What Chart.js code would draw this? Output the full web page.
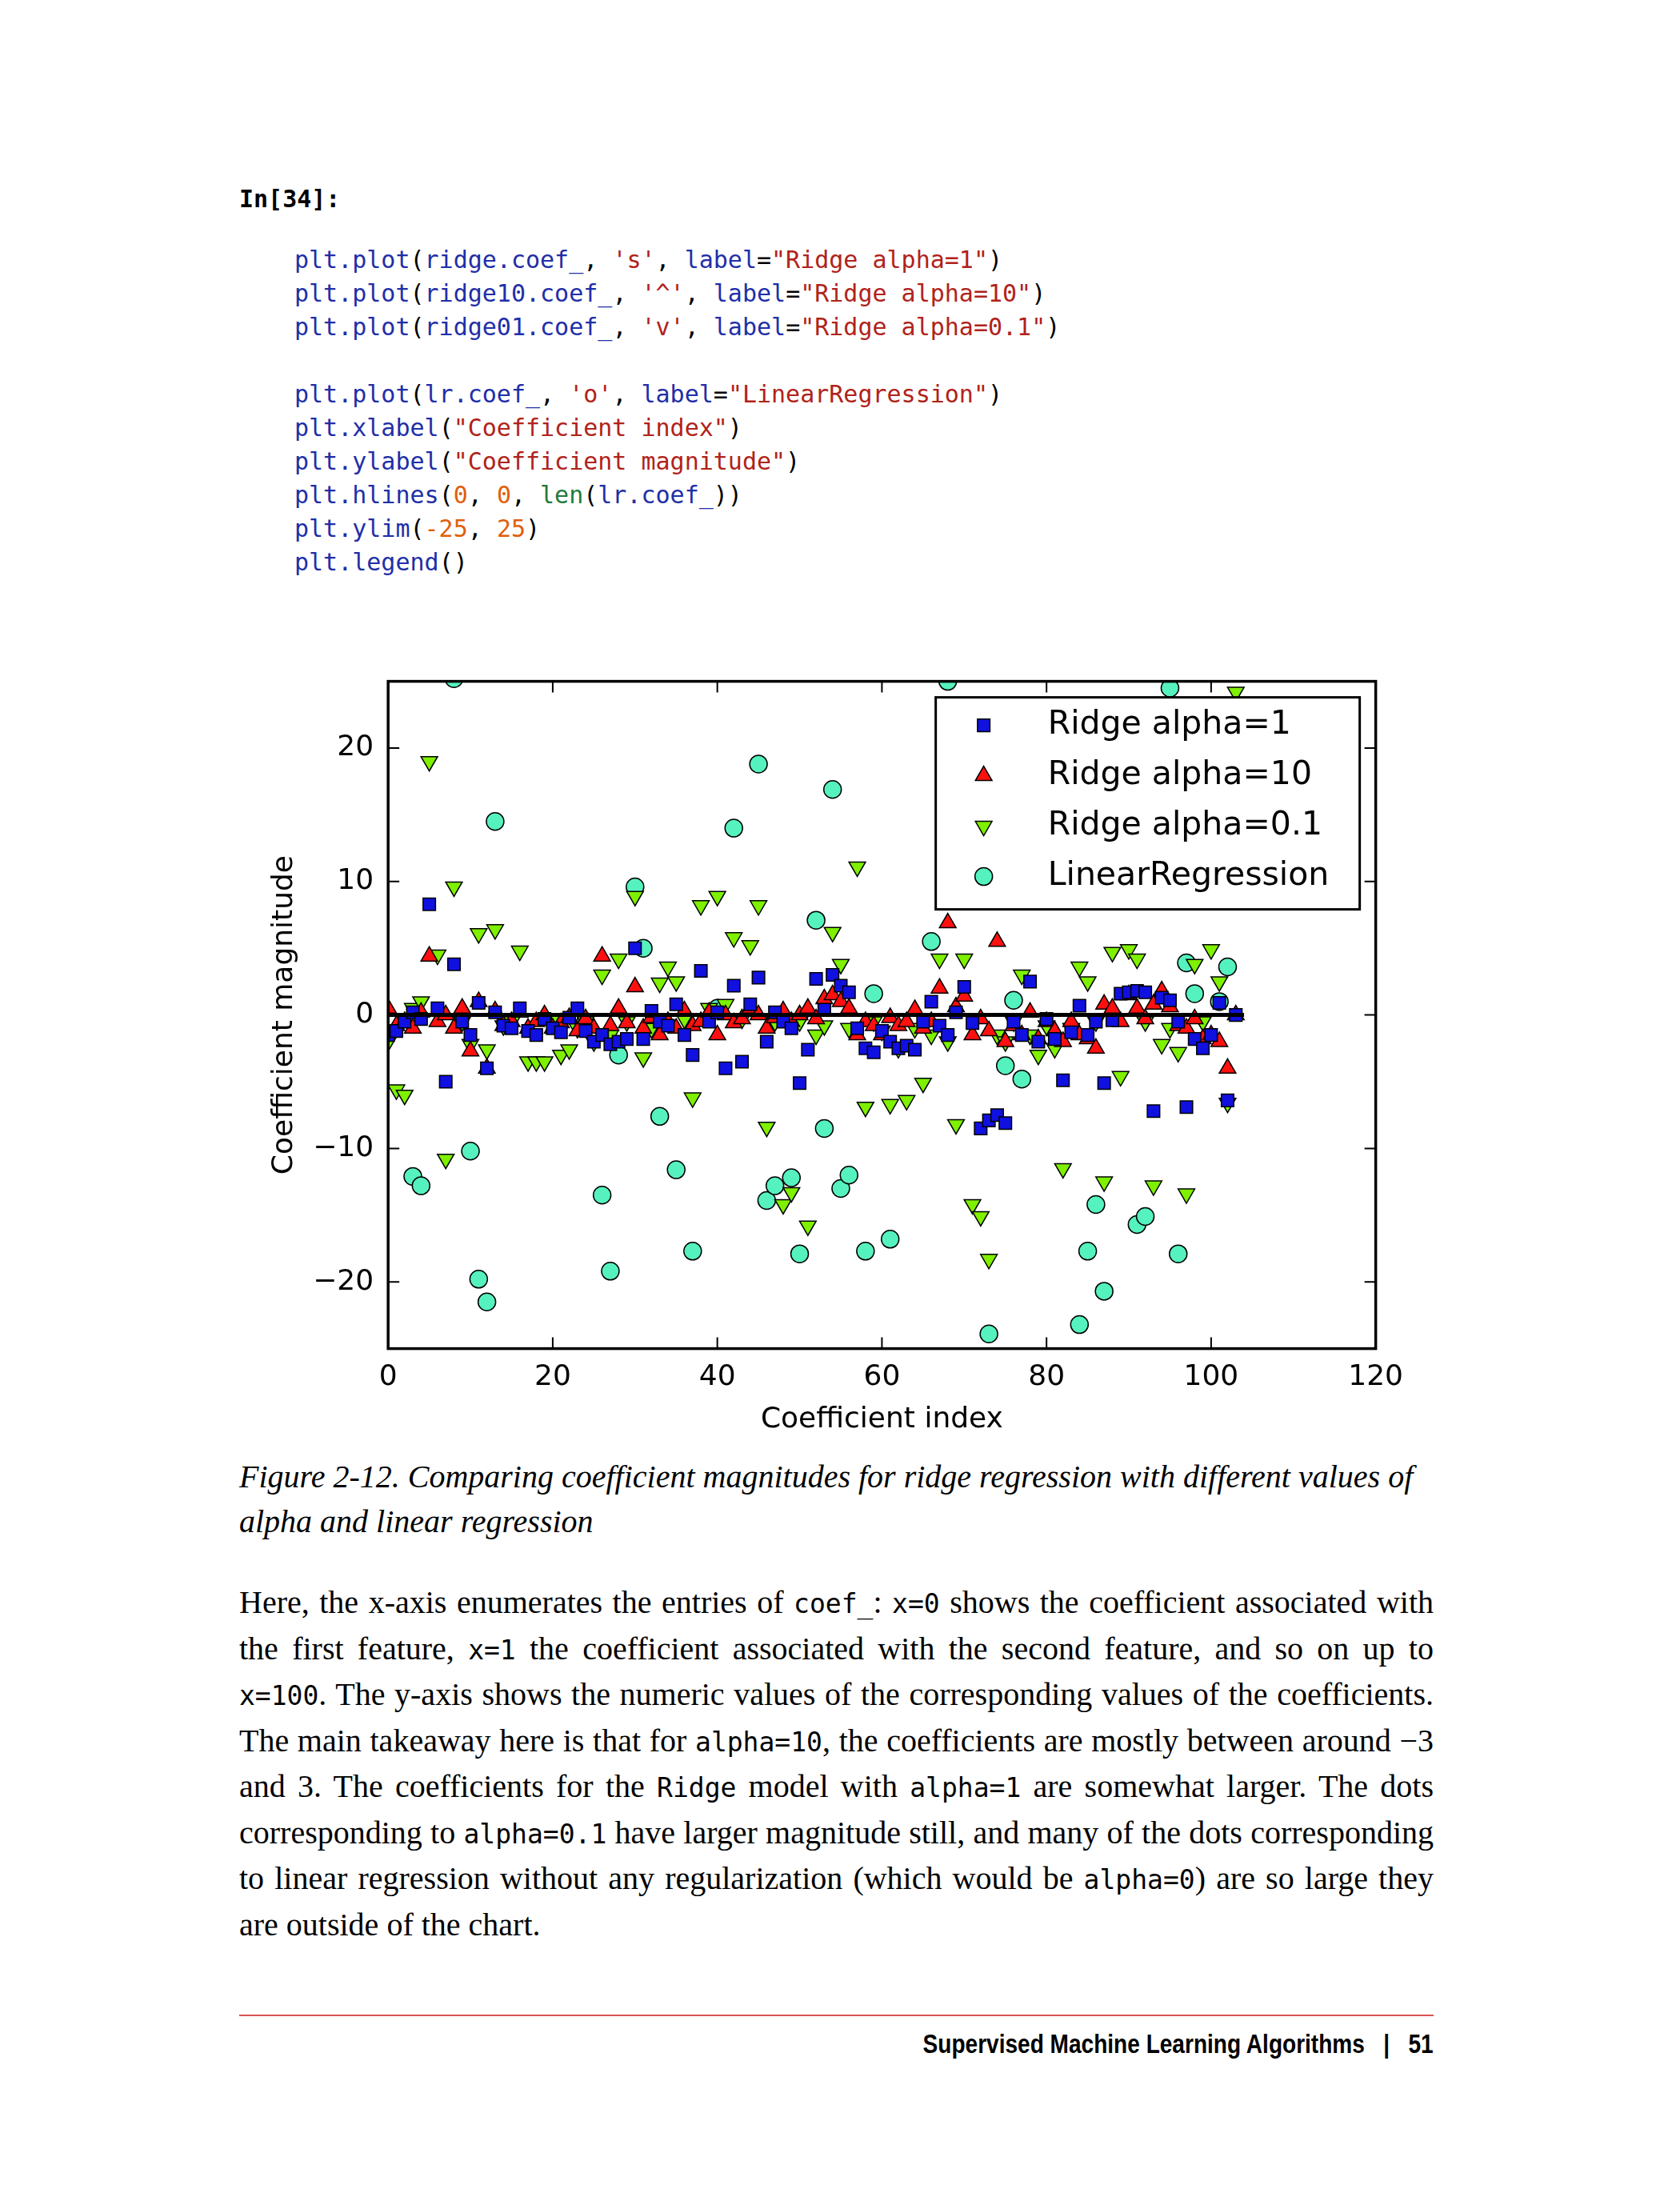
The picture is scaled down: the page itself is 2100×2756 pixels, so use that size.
<!DOCTYPE html>
<html>
<head>
<meta charset="utf-8">
<title>Ridge coefficients</title>
<script src="https://cdn.jsdelivr.net/npm/chart.js"></script>
<style>
  body { margin:0; width:2100px; height:2756px; background:#fff; position:relative; font-family:"Liberation Serif", serif; }
  .code { position:absolute; left:368px; font-family:"DejaVu Sans Mono", monospace; font-size:30px; line-height:42px; white-space:pre; color:#000; }
  .b { color:#1f2fa8; } .s { color:#b0231a; } .n { color:#e0600c; } .g { color:#1f7a3a; }
  #wrap { position:absolute; left:330px; top:820px; width:1430px; height:980px; }
  .cap { position:absolute; left:299px; width:1500px; top:1818px; font-style:italic; font-size:40px; line-height:56px; }
  .body { position:absolute; left:299px; width:1493px; top:1975px; font-size:40px; line-height:55.5px; text-align:justify; }
  .body code { font-family:"DejaVu Sans Mono", monospace; font-size:33px; }
  .foot { position:absolute; left:299px; width:1493px; top:2518px; border-top:2px solid #d9534f; }
  .ftext { position:absolute; right:308px; top:2536px; font-family:"Liberation Sans Narrow","Liberation Sans",sans-serif; font-weight:bold; font-size:33px; transform:scaleX(0.85); transform-origin:right; }
</style>
</head>
<body>
<div class="code" style="top:228px;font-weight:bold;left:299px">In[34]:</div>
<div class="code" style="top:304px"><span class="b">plt.plot</span>(<span class="b">ridge.coef_</span>, <span class="s">'s'</span>, <span class="b">label</span>=<span class="s">"Ridge alpha=1"</span>)
<span class="b">plt.plot</span>(<span class="b">ridge10.coef_</span>, <span class="s">'^'</span>, <span class="b">label</span>=<span class="s">"Ridge alpha=10"</span>)
<span class="b">plt.plot</span>(<span class="b">ridge01.coef_</span>, <span class="s">'v'</span>, <span class="b">label</span>=<span class="s">"Ridge alpha=0.1"</span>)

<span class="b">plt.plot</span>(<span class="b">lr.coef_</span>, <span class="s">'o'</span>, <span class="b">label</span>=<span class="s">"LinearRegression"</span>)
<span class="b">plt.xlabel</span>(<span class="s">"Coefficient index"</span>)
<span class="b">plt.ylabel</span>(<span class="s">"Coefficient magnitude"</span>)
<span class="b">plt.hlines</span>(<span class="n">0</span>, <span class="n">0</span>, <span class="g">len</span>(<span class="b">lr.coef_</span>))
<span class="b">plt.ylim</span>(<span class="n">-25</span>, <span class="n">25</span>)
<span class="b">plt.legend</span>()</div>

<div id="wrap"><canvas id="c"></canvas></div>

<div class="cap">Figure 2-12. Comparing coefficient magnitudes for ridge regression with different values of alpha and linear regression</div>
<div class="body">Here, the x-axis enumerates the entries of <code>coef_</code>: <code>x=0</code> shows the coefficient associated with the first feature, <code>x=1</code> the coefficient associated with the second feature, and so on up to <code>x=100</code>. The y-axis shows the numeric values of the corresponding values of the coefficients. The main takeaway here is that for <code>alpha=10</code>, the coefficients are mostly between around &minus;3 and 3. The coefficients for the <code>Ridge</code> model with <code>alpha=1</code> are somewhat larger. The dots corresponding to <code>alpha=0.1</code> have larger magnitude still, and many of the dots corresponding to linear regression without any regularization (which would be <code>alpha=0</code>) are so large they are outside of the chart.</div>
<div class="foot"></div>
<div class="ftext">Supervised Machine Learning Algorithms &nbsp;&nbsp;|&nbsp;&nbsp; 51</div>

<script>
var ridge1 = [-1.5,-1.2,-0.5,0.2,-0.3,8.3,0.5,-5,3.8,-0.5,-1.5,0.9,-4,0.2,-0.8,-1,0.5,-1.2,-1.5,-0.3,-1,-1.3,-0.2,0.5,-1.2,-2,-1.5,-2.2,-2,-1.8,5,-1.8,0.3,-0.5,-0.8,0.8,-1.5,-3,3.3,-0.5,0.2,-4,2.2,-3.5,0.8,2.8,-2,0.2,-0.5,-1,-5.1,-2.6,2.7,0.4,3,2.2,1.7,-1,-2.5,-2.8,-1.2,-2,-2.5,-2.3,-2.6,-0.5,1,-0.8,-1.5,0.2,2.1,-0.6,-8.5,-7.9,-7.5,-8.1,-0.5,-1.5,2.5,-2,-0.3,-1.8,-4.9,-1.3,0.7,-1.5,-0.5,-5.1,-0.4,1.6,1.7,1.8,1.7,-7.2,1.3,1.1,-0.5,-6.9,-1.8,-2.5,-1.5,0.9,-6.4,0];
var ridge10 = [0.5,-0.8,-0.5,-1,0.2,4.4,-0.5,0,-1,0.5,-2.7,1,-4,0.3,-0.8,-0.5,0.2,-1,-0.5,0,-1,-0.6,-0.2,-1.2,-0.3,-1,4.4,-0.8,0.5,-0.6,2.1,-1,-0.2,-1.5,-0.5,-1,0.3,-0.8,-0.5,0.2,-1.5,0,-0.6,-0.3,0.5,0,-1,-0.2,0.3,-0.5,0,0.5,-0.3,1.2,1.5,1,0.5,-1.5,-0.5,-0.8,-1.5,-0.2,-0.8,-0.5,0.4,-1,-0.5,2,6.9,0.6,1.4,-1.5,-0.3,-1.2,5.5,-2,-0.8,-1.5,0.2,-1.8,-0.5,-1.2,-2,-0.5,-1.5,-1.8,-2.5,0.8,0.5,-0.5,1.5,0.5,-0.3,0.8,1.8,0.6,-0.8,-1,-0.3,-1.8,-1.5,-2,-4,0];
var ridge01 = [-2,-5.6,-6,0.5,1,19,4.5,-10.8,9.6,-0.5,-2.2,6.1,-2.6,6.4,-0.8,-0.5,4.8,-3.5,-3.5,-3.5,-0.3,-3,-2.6,-1,-0.5,-2,3,-1.5,4.2,-0.5,8.9,-3.2,-1,2.4,3.6,2.5,-0.3,-6.2,8.2,0.5,8.9,0.8,5.8,-0.3,5.2,8.2,-8.4,-0.5,-14.2,-13.3,-0.5,-15.8,-1.5,-0.8,6.2,3.8,-1,11.1,-6.9,-0.5,-1.2,-6.7,-2.5,-6.4,-1,-5.1,-1.5,4.2,-2,-8.2,4.2,-14.2,-15.1,-18.3,-1.5,-2,-0.5,3,-1.5,-3,-0.8,-2.5,-11.5,-1,3.6,2.5,-0.5,-12.5,4.7,-4.6,4.9,4.2,-0.5,-12.8,-2.2,-1,-2.8,-13.4,3.8,-0.5,4.9,2.5,-6.6,24.2];
var linreg = [35,-40,28,-12.1,-12.8,45,-33,30,25.2,-28,-10.2,-19.8,-21.5,14.5,38,-45,32,-30,50,-36,29,-27,41,-31,-0.5,33,-13.5,-19.2,-3,-38,9.6,5,-0.9,-7.6,36,-11.6,-29,-17.7,44,-33,0.5,27,14,-40,31,18.8,-13.9,-12.8,35,-12.2,-17.9,-28,7.1,-8.5,16.9,-13,-12,30,-17.7,1.6,-34,-16.8,39,-27,33,-42,5.5,-31,25,28,-36,37,-29,-23.9,32,-3.8,1.1,-4.8,40,-35,27,-30,34,-44,-23.2,-17.7,-14.2,-20.7,31,-28,36,-15.7,-15.1,29,-33,24.5,-17.9,3.9,1.6,-37,30,1,3.6,-29];
var xTicks = [0,20,40,60,80,100,120];
var yTicks = [-20,-10,0,10,20];

function pts(arr) { return arr.map(function (v, i) { return { x: i, y: v }; }); }

var series = [
  { label: "Ridge alpha=1", data: ridge1, style: "rect", color: "#1010e0", r: 11 },
  { label: "Ridge alpha=10", data: ridge10, style: "triangle", color: "#ff1010", r: 12 },
  { label: "Ridge alpha=0.1", data: ridge01, style: "triangle", rot: 180, color: "#7ef000", r: 12 },
  { label: "LinearRegression", data: linreg, style: "circle", color: "#55f2bf", r: 11 }
];

var datasets = series.map(function (s) {
  return { label: s.label, data: pts(s.data), showLine: false, pointStyle: s.style,
    pointRotation: s.rot || 0, pointRadius: s.r, pointBackgroundColor: s.color,
    pointBorderColor: "#000", pointBorderWidth: 1.5 };
});
// hlines(0, 0, len(coef_)) drawn first so markers sit on top
datasets.unshift({ label: "hline", data: [{ x: 0, y: 0 }, { x: linreg.length, y: 0 }],
  showLine: true, borderColor: "#000", borderWidth: 5, pointRadius: 0 });

var frame = {
  id: "frame",
  afterDraw: function (chart) {
    var ctx = chart.ctx, a = chart.chartArea, xs = chart.scales.x, ys = chart.scales.y;
    ctx.save();
    ctx.strokeStyle = "#000"; ctx.lineWidth = 2;
    xTicks.forEach(function (t) {
      var px = xs.getPixelForValue(t);
      ctx.beginPath(); ctx.moveTo(px, a.bottom); ctx.lineTo(px, a.bottom - 14);
      ctx.moveTo(px, a.top); ctx.lineTo(px, a.top + 14); ctx.stroke();
    });
    yTicks.forEach(function (t) {
      var py = ys.getPixelForValue(t);
      ctx.beginPath(); ctx.moveTo(a.left, py); ctx.lineTo(a.left + 14, py);
      ctx.moveTo(a.right, py); ctx.lineTo(a.right - 14, py); ctx.stroke();
    });
    ctx.lineWidth = 3.5;
    ctx.strokeRect(a.left, a.top, a.right - a.left, a.bottom - a.top);
    // legend box, upper right inside axes
    var w = 530, h = 265, lx = a.right - w - 20, ly = a.top + 20;
    ctx.fillStyle = "#fff"; ctx.fillRect(lx, ly, w, h);
    ctx.lineWidth = 3; ctx.strokeRect(lx, ly, w, h);
    ctx.font = "41px 'DejaVu Sans'"; ctx.textBaseline = "middle";
    series.forEach(function (s, i) {
      var cy = ly + 35 + i * 63;
      ctx.fillStyle = s.color; ctx.strokeStyle = "#000"; ctx.lineWidth = 1.5;
      Chart.helpers.drawPoint(ctx, { pointStyle: s.style, rotation: s.rot || 0, radius: s.r, borderWidth: 1.5 }, lx + 60, cy);
      ctx.fillStyle = "#000";
      ctx.fillText(s.label, lx + 140, cy);
    });
    ctx.restore();
  }
};

new Chart(document.getElementById("c"), {
  type: "scatter",
  data: { datasets: datasets },
  options: {
    responsive: true, maintainAspectRatio: false, animation: false,
    layout: { padding: { right: 40, top: 5 } },
    plugins: { legend: { display: false }, tooltip: { enabled: false } },
    scales: {
      x: { min: 0, max: 120, grid: { display: false }, border: { display: false },
        afterBuildTicks: function (ax) { ax.ticks = xTicks.map(function (v) { return { value: v }; }); },
        ticks: { color: "#000", font: { family: "DejaVu Sans", size: 36 }, padding: 6 },
        title: { display: true, text: "Coefficient index", color: "#000", font: { family: "DejaVu Sans", size: 36 } } },
      y: { min: -25, max: 25, grid: { display: false }, border: { display: false },
        afterBuildTicks: function (ax) { ax.ticks = yTicks.map(function (v) { return { value: v }; }); },
        ticks: { color: "#000", font: { family: "DejaVu Sans", size: 36 }, padding: 10,
          callback: function (v) { return v < 0 ? "\u2212" + Math.abs(v) : String(v); } },
        title: { display: true, text: "Coefficient magnitude", color: "#000", font: { family: "DejaVu Sans", size: 36 } } }
    }
  },
  plugins: [frame]
});
</script>
</body>
</html>
